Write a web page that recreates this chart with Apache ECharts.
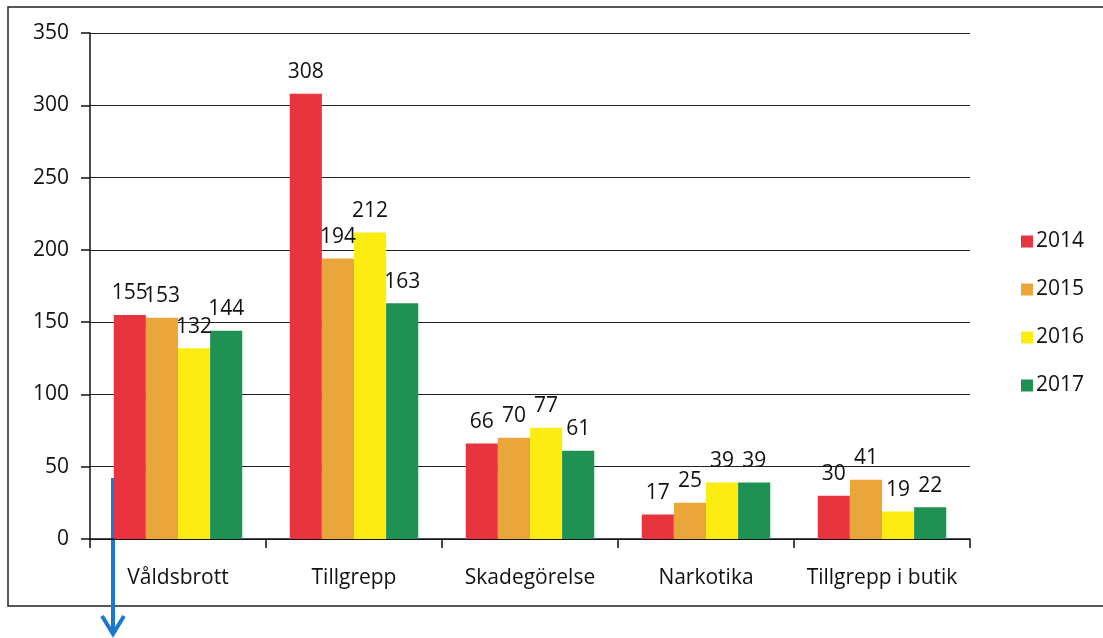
<!DOCTYPE html>
<html>
<head>
    <meta charset="UTF-8">
    <title>Brott per kategori</title>
    <script src="https://cdn.jsdelivr.net/npm/echarts@6/dist/echarts.min.js"></script>
    <style>
        html, body { margin: 0; padding: 0; background: #fff; }
        #chart { width: 1103px; height: 638px; }
    </style>
</head>
<body>
<div id="chart"></div>
<script type="text/javascript">
    // data
    var categories = ['Våldsbrott', 'Tillgrepp', 'Skadegörelse', 'Narkotika', 'Tillgrepp i butik'];
    var years = ['2014', '2015', '2016', '2017'];
    var v2014 = [155, 308, 66, 17, 30];
    var v2015 = [153, 194, 70, 25, 41];
    var v2016 = [132, 212, 77, 39, 19];
    var v2017 = [144, 163, 61, 39, 22];
    var colors = ['#e8343f', '#eba63a', '#fbec12', '#1f9152'];

    var font = '"Open Sans", Lato, sans-serif';
    var chart = echarts.init(document.getElementById('chart'));

    var series = [v2014, v2015, v2016, v2017].map(function (vals, i) {
        return {
            name: years[i],
            type: 'bar',
            data: vals,
            barGap: '0%',
            barCategoryGap: '27%',
            itemStyle: { color: colors[i] },
            label: {
                show: true,
                position: 'top',
                distance: 11,
                color: '#111',
                fontSize: 21,
                fontFamily: font
            }
        };
    });

    var option = {
        animation: false,
        backgroundColor: '#fff',
        grid: { left: 90, right: 133, top: 33, bottom: 99 },
        legend: {
            orient: 'vertical',
            right: 14,
            top: 226,
            itemWidth: 12,
            itemHeight: 12,
            itemGap: 27,
            icon: 'rect',
            textStyle: { fontSize: 21, color: '#111', fontFamily: font, padding: [0, 0, 0, -2] },
            data: years
        },
        xAxis: {
            type: 'category',
            data: categories,
            axisLine: { lineStyle: { color: '#111', width: 1.5 } },
            axisTick: { show: true, length: 9, lineStyle: { color: '#111', width: 1.5 } },
            axisLabel: { interval: 0, fontSize: 21, color: '#111', margin: 29, fontFamily: font }
        },
        yAxis: {
            type: 'value',
            min: 0,
            max: 350,
            interval: 50,
            axisLine: { show: true, lineStyle: { color: '#111', width: 1.5 } },
            axisTick: { show: true, length: 9, lineStyle: { color: '#111', width: 1.5 } },
            axisLabel: { fontSize: 21, color: '#111', margin: 21, fontFamily: font },
            splitLine: { lineStyle: { color: '#222', width: 1.2 } }
        },
        series: series,
        graphic: [
            {
                // outer frame of the scanned chart
                type: 'rect',
                shape: { x: 8, y: 7, width: 1110, height: 599 },
                style: { fill: 'none', stroke: '#222', lineWidth: 1.5 },
                z: 0
            },
            {
                // hand-drawn blue arrow annotation
                type: 'group',
                z: 100,
                children: [
                    {
                        type: 'line',
                        shape: { x1: 113, y1: 478, x2: 113, y2: 632 },
                        style: { stroke: '#1b78cc', lineWidth: 4 }
                    },
                    {
                        type: 'polyline',
                        shape: { points: [[102, 616], [113, 634], [124, 616]] },
                        style: { stroke: '#1b78cc', lineWidth: 4, fill: 'none' }
                    }
                ]
            }
        ]
    };
    chart.setOption(option);
</script>
</body>
</html>
